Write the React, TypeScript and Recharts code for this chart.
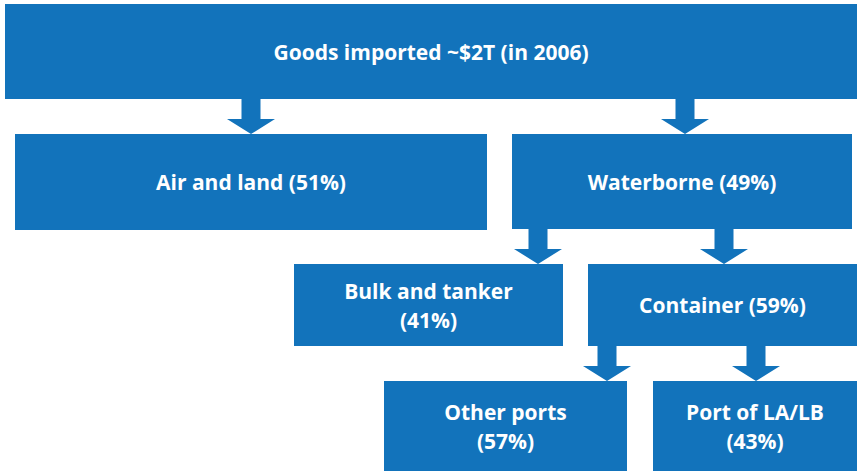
import React from "react";
import { ComposedChart, XAxis, YAxis, ReferenceArea } from "recharts";

// Import flow breakdown (share of parent, %)
const nodeIds = ["total", "air", "water", "bulk", "container", "other", "lalb"];
const nodeNames = [
  "Goods imported ~$2T (in 2006)",
  "Air and land",
  "Waterborne",
  "Bulk and tanker",
  "Container",
  "Other ports",
  "Port of LA/LB",
];
const nodeShares: (number | null)[] = [null, 51, 49, 41, 59, 57, 43];
const parentIds = [null, "total", "total", "water", "water", "container", "container"];
// boxes that wrap the share onto a second line
const twoLine = ["bulk", "other", "lalb"];

// layout in page pixels (diagram space)
const W = 858;
const H = 471;
const BLUE = "#1273bb";

const boxLayout: Record<string, [number, number, number, number]> = {
  total: [5, 857, 4, 99],
  air: [15, 487, 134, 230],
  water: [512, 852, 134, 229],
  bulk: [294, 563, 264, 346],
  container: [588, 857, 264, 346],
  other: [384, 627, 381, 471],
  lalb: [653, 857, 381, 471],
};
// arrow centre x on the child side
const arrowX: Record<string, number> = {
  air: 251,
  water: 685,
  bulk: 538,
  container: 724,
  other: 607,
  lalb: 756,
};

const HEAD_W = 48;
const SHAFT_W = 19;
const HEAD_H = 15;

function BoxShape(props: any) {
  const { x, y, width, height, lines } = props;
  const cx = x + width / 2;
  const cy = y + height / 2;
  const lh = 29;
  const start = cy - ((lines.length - 1) * lh) / 2;
  return (
    <g>
      <rect x={x} y={y} width={width} height={height} fill={BLUE} />
      {lines.map((t: string, i: number) => (
        <text
          key={i}
          x={cx}
          y={start + i * lh}
          textAnchor="middle"
          dominantBaseline="central"
          fill="#fff"
          style={{ fontFamily: "'Open Sans', sans-serif", fontWeight: 700, fontSize: 21 }}
        >
          {t}
        </text>
      ))}
    </g>
  );
}

function ArrowShape(props: any) {
  const { x, y, width, height } = props;
  const cx = x + width / 2;
  const hs = y + height - HEAD_H;
  const d = [
    `M${cx - SHAFT_W / 2},${y}`,
    `L${cx + SHAFT_W / 2},${y}`,
    `L${cx + SHAFT_W / 2},${hs}`,
    `L${x + width},${hs}`,
    `L${cx},${y + height}`,
    `L${x},${hs}`,
    `L${cx - SHAFT_W / 2},${hs}`,
    "Z",
  ].join(" ");
  return <path d={d} fill={BLUE} />;
}

export default function App() {
  const nodes = nodeIds.map((id, i) => {
    const share = nodeShares[i];
    const name = nodeNames[i];
    let lines: string[] = [name];
    if (share !== null) {
      lines = twoLine.includes(id) ? [name, `(${share}%)`] : [`${name} (${share}%)`];
    }
    return { id, parent: parentIds[i], lines };
  });

  return (
    <div style={{ position: "absolute", left: 0, top: 0, width: W, height: H, background: "#fff" }}>
      <ComposedChart width={W} height={H} data={[{ x: 0, y: 0 }]} margin={{ top: 0, right: 0, bottom: 0, left: 0 }}>
        <XAxis type="number" dataKey="x" domain={[0, W]} hide />
        <YAxis type="number" dataKey="y" domain={[0, H]} reversed hide />
        {nodes.map((n) => {
          const [x1, x2, y1, y2] = boxLayout[n.id];
          return (
            <ReferenceArea
              key={n.id}
              x1={x1}
              x2={x2}
              y1={y1}
              y2={y2}
              ifOverflow="visible"
              shape={(p: any) => <BoxShape {...p} lines={n.lines} />}
            />
          );
        })}
        {nodes
          .filter((n) => n.parent)
          .map((n) => {
            const cx = arrowX[n.id];
            const parentBottom = boxLayout[n.parent as string][3];
            const childTop = boxLayout[n.id][2];
            return (
              <ReferenceArea
                key={"a-" + n.id}
                x1={cx - HEAD_W / 2}
                x2={cx + HEAD_W / 2}
                y1={parentBottom}
                y2={childTop}
                ifOverflow="visible"
                shape={ArrowShape}
              />
            );
          })}
      </ComposedChart>
    </div>
  );
}
